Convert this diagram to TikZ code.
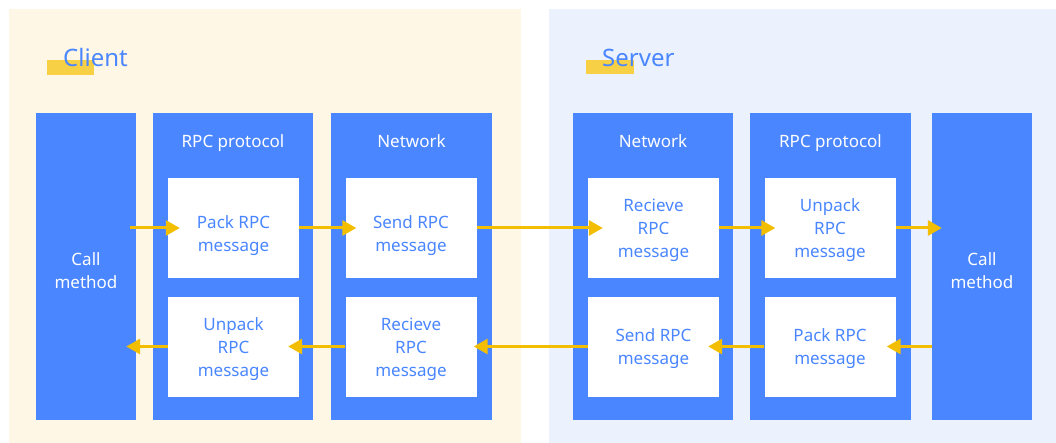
\documentclass[tikz,border=0pt]{standalone}
\usepackage{fontspec}
\setmainfont{Noto Sans}
\usetikzlibrary{arrows.meta}
\definecolor{blockblue}{RGB}{74,134,255}
\definecolor{clientbg}{RGB}{254,247,230}
\definecolor{serverbg}{RGB}{235,241,253}
\definecolor{arrowyellow}{RGB}{243,190,0}
\definecolor{markyellow}{RGB}{247,208,70}
\begin{document}
\begin{tikzpicture}[x=1pt,y=-1pt]
  \tikzstyle{block}=[fill=blockblue,minimum height=307pt,inner sep=0pt]
  \tikzstyle{msg}=[fill=white,minimum width=131pt,minimum height=100pt,inner sep=0pt]
  \tikzstyle{msgtext}=[text=blockblue,font=\fontsize{17}{23}\selectfont,align=center,yshift=-2.5pt]
  \tikzstyle{calltext}=[text=white,font=\fontsize{17}{23}\selectfont,align=center,yshift=-4pt]
  \tikzstyle{head}=[text=white,font=\fontsize{17}{20}\selectfont,anchor=base]
  \tikzstyle{title}=[text=blockblue,font=\fontsize{24}{28}\selectfont,anchor=base west,inner sep=0pt]
  \tikzstyle{flow}=[draw=arrowyellow,line width=3pt,-{Triangle[length=14pt,width=15pt]}]
  \useasboundingbox (0,0) rectangle (1056,443);
  % panels
  \fill[clientbg] (9,9) rectangle (521,443);
  \fill[serverbg] (549,9) rectangle (1056,443);
  \fill[markyellow] (47,60) rectangle (94,75);
  \fill[markyellow] (586,60) rectangle (634,74);
  \node[title] (client) at (63,67) {Client};
  \node[title] (server) at (602,67) {Server};
  % columns
  \node[block,minimum width=100pt,label={[calltext]center:Call\\method}] (callL) at (86,266.5) {};
  \node[block,minimum width=160pt] (rpcL) at (233,266.5) {};
  \node[block,minimum width=161pt] (netL) at (411.5,266.5) {};
  \node[block,minimum width=160pt] (netR) at (653,266.5) {};
  \node[block,minimum width=161pt] (rpcR) at (830.5,266.5) {};
  \node[block,minimum width=100pt,label={[calltext]center:Call\\method}] (callR) at (982,266.5) {};
  \node[head] (rpcLhead) at (233,147.5) {RPC protocol};
  \node[head] (netLhead) at (411.5,147.5) {Network};
  \node[head] (netRhead) at (653,147.5) {Network};
  \node[head] (rpcRhead) at (830.5,147.5) {RPC protocol};
  % messages
  \node[msg,label={[msgtext,yshift=-5pt]center:Pack RPC\\message}] (packL) at (233.5,228) {};
  \node[msg,label={[msgtext]center:Unpack\\RPC\\message}] (unpackL) at (233.5,346.5) {};
  \node[msg,label={[msgtext,yshift=-5pt]center:Send RPC\\message}] (sendL) at (411,228) {};
  \node[msg,label={[msgtext]center:Recieve\\RPC\\message}] (recvL) at (411,346.5) {};
  \node[msg,label={[msgtext]center:Recieve\\RPC\\message}] (recvR) at (653.5,228) {};
  \node[msg,label={[msgtext]center:Send RPC\\message}] (sendR) at (653.5,346.5) {};
  \node[msg,label={[msgtext]center:Unpack\\RPC\\message}] (unpackR) at (830,228) {};
  \node[msg,label={[msgtext]center:Pack RPC\\message}] (packR) at (830,346.5) {};
  % request
  \draw[flow] ([xshift=-6pt]callL.east |- packL.west) -- ([xshift=12pt]packL.west);
  \draw[flow] (packL.east) -- ([xshift=11pt]sendL.west);
  \draw[flow] (sendL.east) -- ([xshift=15pt]recvR.west);
  \draw[flow] (recvR.east) -- ([xshift=11pt]unpackR.west);
  \draw[flow] (unpackR.east) -- ([xshift=10pt]callR.west |- unpackR.east);
  % response
  \draw[flow] (callR.west |- packR.east) -- ([xshift=-9pt]packR.east);
  \draw[flow] (packR.west) -- ([xshift=-11pt]sendR.east);
  \draw[flow] (sendR.west) -- ([xshift=-3pt]recvL.east);
  \draw[flow] (recvL.west) -- ([xshift=-11pt]unpackL.east);
  \draw[flow] (unpackL.west) -- ([xshift=-10pt]callL.east |- unpackL.west);
\end{tikzpicture}
\end{document}
